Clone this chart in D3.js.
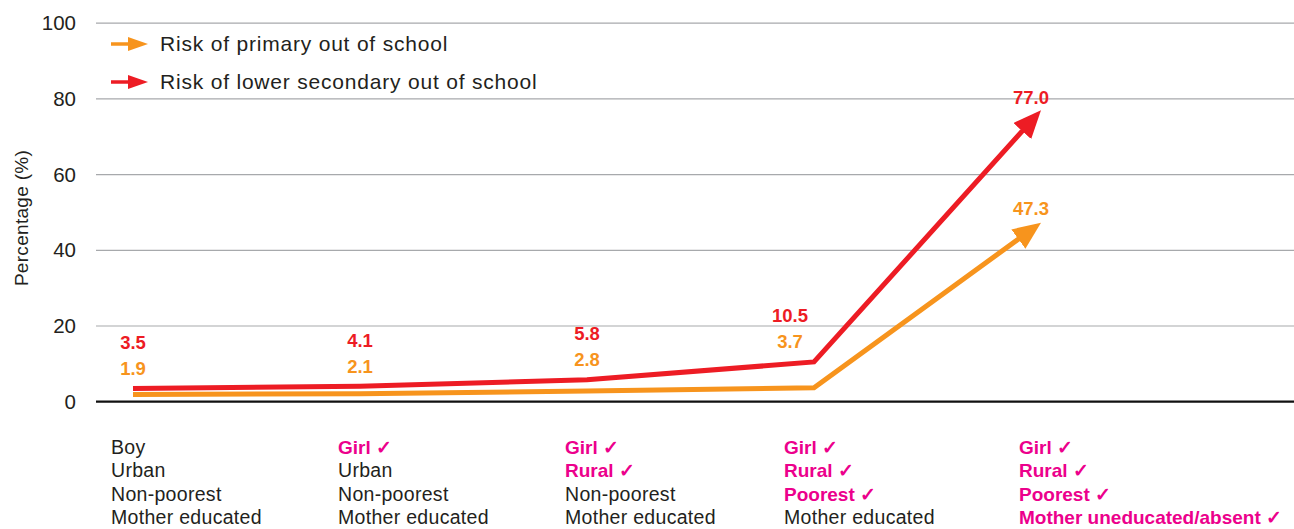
<!DOCTYPE html>
<html>
<head>
<meta charset="utf-8">
<script src="https://cdn.jsdelivr.net/npm/d3@7"></script>
<style>
  body { margin: 0; background: #fff; }
  svg { display: block; font-family: "Liberation Sans", Arial, sans-serif; }
</style>
</head>
<body>
<div id="chart"></div>
<script>
// values
var primary = [1.9, 2.1, 2.8, 3.7, 47.3];
var lowerSecondary = [3.5, 4.1, 5.8, 10.5, 77.0];
var yTicks = [0, 20, 40, 60, 80, 100];
var seriesNames = ["Risk of primary out of school", "Risk of lower secondary out of school"];

// each category: 4 lines, flag = changed characteristic (pink)
var categories = [
  [["Boy", 0], ["Urban", 0], ["Non-poorest", 0], ["Mother educated", 0]],
  [["Girl", 1], ["Urban", 0], ["Non-poorest", 0], ["Mother educated", 0]],
  [["Girl", 1], ["Rural", 1], ["Non-poorest", 0], ["Mother educated", 0]],
  [["Girl", 1], ["Rural", 1], ["Poorest", 1], ["Mother educated", 0]],
  [["Girl", 1], ["Rural", 1], ["Poorest", 1], ["Mother uneducated/absent", 1]]
];

var W = 1294, H = 529;
var RED = "#ed1c24", ORANGE = "#f7941d", PINK = "#ec008c", INK = "#231f20";

var svg = d3.select("#chart").append("svg")
  .attr("width", W).attr("height", H);

var x = d3.scalePoint()
  .domain(d3.range(primary.length))
  .range([133, 1041]);

var y = d3.scaleLinear()
  .domain([0, 100])
  .range([401.7, 23.2]);

// gridlines
svg.append("g").selectAll("line")
  .data(yTicks)
  .enter().append("line")
  .attr("x1", 96).attr("x2", W)
  .attr("y1", function(d) { return y(d); })
  .attr("y2", function(d) { return y(d); })
  .attr("stroke", function(d) { return d === 0 ? "#111" : "#a7a9ac"; })
  .attr("stroke-width", function(d) { return d === 0 ? 2.2 : 1.2; });

// y axis labels
var yAxis = d3.axisLeft(y).tickValues(yTicks).tickSize(0).tickPadding(0);
var gy = svg.append("g")
  .attr("transform", "translate(76,0)")
  .call(yAxis);
gy.select(".domain").remove();
gy.selectAll("text")
  .attr("font-size", 20.5)
  .attr("font-family", "Liberation Sans, Arial, sans-serif")
  .attr("fill", INK);

svg.append("text")
  .attr("transform", "translate(28,218) rotate(-90)")
  .attr("text-anchor", "middle")
  .attr("font-size", 19)
  .attr("letter-spacing", 0.3)
  .attr("fill", INK)
  .text("Percentage (%)");

// arrow markers
var defs = svg.append("defs");
[["arrow-o", ORANGE], ["arrow-r", RED]].forEach(function(m) {
  defs.append("marker")
    .attr("id", m[0])
    .attr("markerUnits", "userSpaceOnUse")
    .attr("viewBox", "0 0 28 24")
    .attr("markerWidth", 28)
    .attr("markerHeight", 24)
    .attr("refX", 12)
    .attr("refY", 12)
    .attr("orient", "auto")
    .append("path")
    .attr("d", "M0,0 L28,12 L0,24 Z")
    .attr("fill", m[1]);
});

// pull the last point back so the stroke sits inside the arrowhead
function trimmedPoints(vals) {
  var pts = vals.map(function(v, i) { return [x(i), y(v)]; });
  var n = pts.length, a = pts[n - 2], b = pts[n - 1];
  var dx = b[0] - a[0], dy = b[1] - a[1], len = Math.sqrt(dx * dx + dy * dy);
  pts[n - 1] = [b[0] - dx / len * 16, b[1] - dy / len * 16];
  return pts;
}

var line = d3.line();

svg.append("path")
  .attr("d", line(trimmedPoints(primary)))
  .attr("fill", "none")
  .attr("stroke", ORANGE)
  .attr("stroke-width", 5)
  .attr("marker-end", "url(#arrow-o)");

svg.append("path")
  .attr("d", line(trimmedPoints(lowerSecondary)))
  .attr("fill", "none")
  .attr("stroke", RED)
  .attr("stroke-width", 5)
  .attr("marker-end", "url(#arrow-r)");

// value labels
var last = primary.length - 1;
function labelX(i) { return x(i) + (i === 3 ? -24 : i === last ? -10 : 0); }
function redLabelY(i) { return i === last ? y(lowerSecondary[i]) - 13 : y(lowerSecondary[i]) - 46; }
function orangeLabelY(i) { return i === last ? y(primary[i]) - 14 : redLabelY(i) + 26; }

svg.append("g").selectAll("text")
  .data(lowerSecondary)
  .enter().append("text")
  .attr("x", function(d, i) { return labelX(i); })
  .attr("y", function(d, i) { return redLabelY(i); })
  .attr("dy", "0.35em")
  .attr("text-anchor", "middle")
  .attr("font-size", 18.5)
  .attr("font-weight", "bold")
  .attr("fill", RED)
  .text(function(d) { return d.toFixed(1); });

svg.append("g").selectAll("text")
  .data(primary)
  .enter().append("text")
  .attr("x", function(d, i) { return labelX(i); })
  .attr("y", function(d, i) { return orangeLabelY(i); })
  .attr("dy", "0.35em")
  .attr("text-anchor", "middle")
  .attr("font-size", 18.5)
  .attr("font-weight", "bold")
  .attr("fill", ORANGE)
  .text(function(d) { return d.toFixed(1); });

// legend
var legend = svg.append("g");
[[ORANGE, 44], [RED, 82]].forEach(function(l, i) {
  legend.append("line")
    .attr("x1", 111).attr("x2", 130)
    .attr("y1", l[1]).attr("y2", l[1])
    .attr("stroke", l[0]).attr("stroke-width", 3.5);
  legend.append("path")
    .attr("d", "M128," + (l[1] - 7) + " L148," + l[1] + " L128," + (l[1] + 7) + " Z")
    .attr("fill", l[0]);
  legend.append("text")
    .attr("x", 160).attr("y", l[1])
    .attr("dy", "0.35em")
    .attr("font-size", 21)
    .attr("letter-spacing", 0.8)
    .attr("fill", INK)
    .text(seriesNames[i]);
});

// category descriptions under the axis
var cats = svg.append("g").selectAll("g")
  .data(categories)
  .enter().append("g")
  .attr("transform", function(d, i) {
    return "translate(" + (x(i) - (i === 3 ? 30 : 22)) + ",0)";
  });

cats.selectAll("text")
  .data(function(d) { return d; })
  .enter().append("text")
  .attr("x", 0)
  .attr("y", function(d, j) { return 454 + j * 23.3; })
  .attr("font-size", function(d) { return d[1] ? 19 : 19.5; })
  .attr("letter-spacing", function(d) { return d[1] ? 0 : 0.3; })
  .attr("font-weight", function(d) { return d[1] ? "bold" : "normal"; })
  .attr("fill", function(d) { return d[1] ? PINK : INK; })
  .text(function(d) { return d[1] ? d[0] + " \u2713" : d[0]; });
</script>
</body>
</html>
